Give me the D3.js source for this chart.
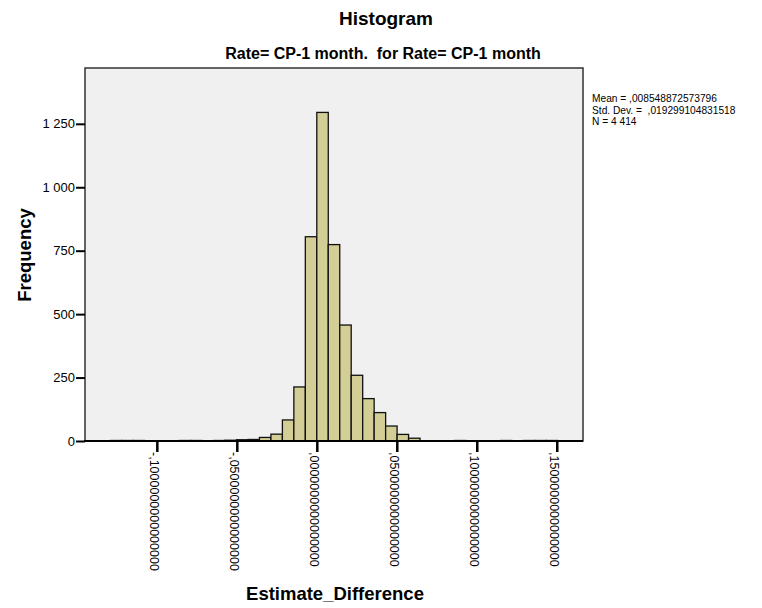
<!DOCTYPE html>
<html lang="en">
<head>
    <meta charset="UTF-8">
    <script src="https://cdn.jsdelivr.net/npm/d3@7/dist/d3.min.js"></script>
    <title>Histogram</title>
    <style>
        body { margin: 0; background: #fff; }
        text { font-family: "Liberation Sans", Arial, sans-serif; }
    </style>
</head>
<body>
    <svg width="762" height="608"></svg>
    <script>
        // bins: first bin starts at firstBin * binWidth, one count per bin
        const binWidth = 0.00717;
        const firstBin = -18;
        const counts = [2, 2, 2, 0, 0, 0, 2, 2, 0, 2, 3, 5, 6, 14, 27, 83, 213, 805,
                        1295, 774, 457, 259, 167, 112, 59, 26, 11, 1, 0, 0, 2, 0, 0, 0, 2, 0, 2, 2, 2];

        const yTicks = [0, 250, 500, 750, 1000, 1250];
        const xTicks = [-0.10, -0.05, 0, 0.05, 0.10, 0.15];
        const xTickLabels = ['-,1000000000000000', '-,0500000000000000', ',0000000000000000',
                             ',0500000000000000', ',1000000000000000', ',1500000000000000'];
        const statLines = ['Mean = ,008548872573796', 'Std. Dev. =  ,019299104831518', 'N = 4 414'];

        const bins = counts.map((c, i) => ({
            x0: (firstBin + i) * binWidth,
            x1: (firstBin + i + 1) * binWidth,
            count: c
        }));

        const plot = { left: 85, right: 583, top: 68, bottom: 441 };
        const svg = d3.select('svg');

        const x = d3.scaleLinear()
            .domain([-0.1449, 0.1664])
            .range([plot.left, plot.right]);
        const y = d3.scaleLinear()
            .domain([0, 1470])
            .range([plot.bottom, plot.top]);

        const locale = d3.formatLocale({ decimal: ',', thousands: ' ', grouping: [3], currency: ['', ''] });
        const fmt = locale.format(',d');

        // plot background
        svg.append('rect')
            .attr('x', plot.left).attr('y', plot.top)
            .attr('width', plot.right - plot.left).attr('height', plot.bottom - plot.top)
            .attr('fill', '#f0f0f0');

        // bars
        svg.append('g')
            .selectAll('rect')
            .data(bins.filter(d => d.count > 0))
            .enter()
            .append('rect')
            .attr('x', d => x(d.x0))
            .attr('width', d => x(d.x1) - x(d.x0))
            .attr('y', d => y(d.count))
            .attr('height', d => y(0) - y(d.count))
            .attr('fill', '#d3ce96')
            .attr('stroke', '#111')
            .attr('stroke-width', 1.3);

        // frame
        svg.append('rect')
            .attr('x', plot.left).attr('y', plot.top)
            .attr('width', plot.right - plot.left).attr('height', plot.bottom - plot.top)
            .attr('fill', 'none')
            .attr('stroke', '#333')
            .attr('stroke-width', 1.5);

        // axes
        const yAxis = svg.append('g')
            .attr('transform', `translate(${plot.left},0)`)
            .call(d3.axisLeft(y).tickValues(yTicks).tickFormat(fmt).tickSize(9).tickPadding(1));
        yAxis.select('.domain').remove();
        yAxis.selectAll('line').attr('stroke', '#000').attr('stroke-width', 2);
        yAxis.selectAll('text')
            .attr('font-size', 13)
            .attr('fill', '#000')
            .style('font-family', '"Liberation Sans", Arial, sans-serif');

        const xAxis = svg.append('g')
            .attr('transform', `translate(0,${plot.bottom})`)
            .call(d3.axisBottom(x).tickValues(xTicks).tickFormat((d, i) => xTickLabels[i]).tickSize(11));
        xAxis.select('.domain')
            .attr('d', `M${plot.left - 1},0H${plot.right}`)
            .attr('stroke', '#000').attr('stroke-width', 2);
        xAxis.selectAll('line').attr('stroke', '#000').attr('stroke-width', 2.5);
        xAxis.selectAll('text')
            .attr('transform', 'rotate(90)')
            .attr('x', 11)
            .attr('y', 0)
            .attr('dy', '0.55em')
            .style('text-anchor', 'start')
            .attr('font-size', 12.5)
            .attr('fill', '#000')
            .style('font-family', '"Liberation Sans", Arial, sans-serif');

        // titles
        svg.append('text')
            .attr('x', 386).attr('y', 25)
            .attr('text-anchor', 'middle')
            .attr('font-size', 19).attr('font-weight', 'bold')
            .text('Histogram');
        svg.append('text')
            .attr('x', 383).attr('y', 59)
            .attr('text-anchor', 'middle')
            .attr('font-size', 16).attr('font-weight', 'bold')
            .style('white-space', 'pre')
            .text('Rate= CP-1 month.  for Rate= CP-1 month');

        svg.append('text')
            .attr('transform', 'translate(31,255) rotate(-90)')
            .attr('text-anchor', 'middle')
            .attr('font-size', 18.5).attr('font-weight', 'bold')
            .text('Frequency');
        svg.append('text')
            .attr('x', 335).attr('y', 600)
            .attr('text-anchor', 'middle')
            .attr('font-size', 18.5).attr('font-weight', 'bold')
            .text('Estimate_Difference');

        // stats box
        svg.append('g')
            .selectAll('text')
            .data(statLines)
            .enter()
            .append('text')
            .attr('x', 592)
            .attr('y', (d, i) => 102 + i * 11.5)
            .attr('font-size', 10.2)
            .style('white-space', 'pre')
            .text(d => d);
    </script>
</body>
</html>
